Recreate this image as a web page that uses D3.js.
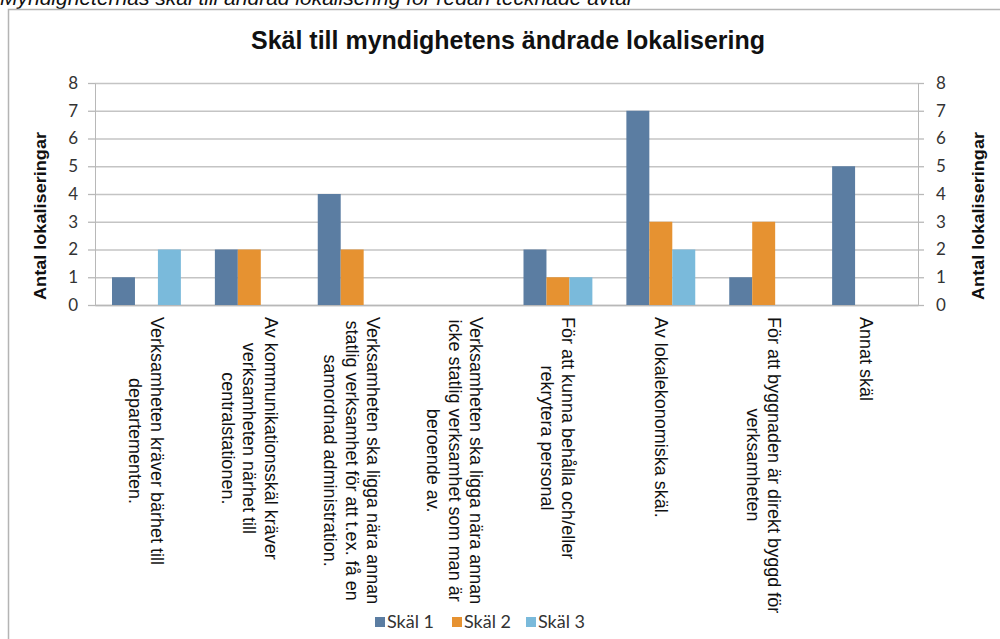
<!DOCTYPE html>
<html>
<head>
<meta charset="utf-8">
<script src="https://cdn.jsdelivr.net/npm/d3@7"></script>
<style>
  body { margin: 0; background: #fff; }
  svg { display: block; }
</style>
</head>
<body>
<svg id="chart"></svg>
<script>
// categories (line breaks as in the original labels)
const categories = [
  ["Verksamheten kräver bärhet till", "departementen."],
  ["Av kommunikationsskäl kräver", "verksamheten närhet till", "centralstationen."],
  ["Verksamheten ska ligga nära annan", "statlig verksamhet för att t.ex. få en", "samordnad administration."],
  ["Verksamheten ska ligga nära annan", "icke statlig verksamhet som man är", "beroende av."],
  ["För att kunna behålla och/eller", "rekrytera personal"],
  ["Av lokalekonomiska skäl."],
  ["För att byggnaden är direkt byggd för", "verksamheten"],
  ["Annat skäl"]
];
const series = ["Skäl 1", "Skäl 2", "Skäl 3"];
const skal1 = [1, 2, 4, 0, 2, 7, 1, 5];
const skal2 = [0, 2, 2, 0, 1, 3, 3, 0];
const skal3 = [2, 0, 0, 0, 1, 2, 0, 0];
const yTicks = [0, 1, 2, 3, 4, 5, 6, 7, 8];
const colors = ["#5b7da2", "#e69231", "#7abadb"];

const width = 1000, height = 639;
const svg = d3.select("#chart").attr("width", width).attr("height", height);

const values = [skal1, skal2, skal3];
const rows = categories.map((c, i) => ({ key: i, lines: c, vals: values.map(v => v[i]) }));

const margin = { left: 95, right: 82, top: 83, bottom: 334 };
const x = d3.scaleBand()
  .domain(d3.range(categories.length))
  .range([margin.left, width - margin.right]);
const x1 = d3.scaleBand()
  .domain(series)
  .range([17, x.bandwidth() - 17]);
const y = d3.scaleLinear().domain([0, 8]).range([height - margin.bottom, margin.top]);

// caption above the chart box (cut off at the top, as in the source image)
svg.append("text")
  .attr("x", 0).attr("y", 5)
  .style("font", "italic 21px 'Liberation Sans', Arial, sans-serif")
  .attr("fill", "#111")
  .text("Myndigheternas skäl till ändrad lokalisering för redan tecknade avtal");

// chart box
svg.append("rect")
  .attr("x", 8.5).attr("y", 9.5)
  .attr("width", 1010).attr("height", 660)
  .attr("fill", "none").attr("stroke", "#b4b4b4").attr("stroke-width", 1.5);

// title
svg.append("text")
  .attr("x", 508).attr("y", 49)
  .attr("text-anchor", "middle")
  .style("font", "bold 25px 'Liberation Sans', Arial, sans-serif")
  .attr("fill", "#111")
  .text("Skäl till myndighetens ändrade lokalisering");

const plotW = width - margin.right - margin.left;

// gridlines
svg.append("g")
  .attr("transform", `translate(${margin.left},0)`)
  .call(d3.axisLeft(y).tickValues(yTicks).tickSize(-plotW).tickFormat(""))
  .call(g => g.select(".domain").remove())
  .call(g => g.selectAll("line").attr("stroke", "#c4c4c4").attr("stroke-width", 1.3));

// left axis
svg.append("g")
  .attr("transform", `translate(${margin.left},0)`)
  .call(d3.axisLeft(y).tickValues(yTicks).tickSize(7).tickPadding(10).tickSizeOuter(0))
  .call(g => g.select(".domain").attr("stroke", "#b8b8b8"))
  .call(g => g.selectAll("line").attr("stroke", "#b8b8b8").attr("stroke-width", 1.3))
  .call(g => g.selectAll("text").attr("fill", "#333")
    .style("font", "17px Lato, 'Open Sans', sans-serif"));

// right axis
svg.append("g")
  .attr("transform", `translate(${width - margin.right},0)`)
  .call(d3.axisRight(y).tickValues(yTicks).tickSize(6).tickPadding(12).tickSizeOuter(0))
  .call(g => g.select(".domain").attr("stroke", "#b8b8b8"))
  .call(g => g.selectAll("line").attr("stroke", "#b8b8b8").attr("stroke-width", 1.3))
  .call(g => g.selectAll("text").attr("fill", "#333")
    .style("font", "17px Lato, 'Open Sans', sans-serif"));

// bottom axis line
svg.append("g")
  .attr("transform", `translate(0,${y(0)})`)
  .call(d3.axisBottom(x).tickSize(0).tickFormat(""))
  .call(g => g.select(".domain").attr("stroke", "#b8b8b8").attr("stroke-width", 1.3));

// axis titles
const titleFont = "bold 16px 'Liberation Sans', Arial, sans-serif";
[40, 978].forEach(tx => {
  svg.append("text")
    .attr("transform", `translate(${tx},216) rotate(-90)`)
    .attr("text-anchor", "middle")
    .attr("dy", "0.35em")
    .attr("textLength", 168)
    .attr("lengthAdjust", "spacingAndGlyphs")
    .style("font", titleFont)
    .attr("fill", "#111")
    .text("Antal lokaliseringar");
});

// bars
const groups = svg.append("g").selectAll("g")
  .data(rows)
  .join("g")
  .attr("transform", d => `translate(${x(d.key)},0)`);

groups.selectAll("rect")
  .data(d => d.vals.map((v, i) => ({ s: series[i], v, i })))
  .join("rect")
  .attr("x", d => x1(d.s))
  .attr("width", x1.bandwidth())
  .attr("y", d => y(d.v))
  .attr("height", d => y(0) - y(d.v))
  .attr("fill", d => colors[d.i]);

// category labels, rotated 90° and centered per line
const labFont = "18px 'Liberation Sans', Arial, sans-serif";
const lh = 21.5;
const labels = svg.append("g").selectAll("g")
  .data(rows)
  .join("g");

labels.each(function (d) {
  const g = d3.select(this);
  const n = d.lines.length;
  const texts = g.selectAll("text")
    .data(d.lines)
    .join("text")
    .style("font", labFont)
    .attr("fill", "#111")
    .attr("text-anchor", "middle")
    .text(t => t);
  const maxLen = d3.max(texts.nodes(), t => t.getComputedTextLength());
  const cx = x(d.key) + x.bandwidth() / 2;
  const cy = y(0) + 12 + maxLen / 2;
  g.attr("transform", `translate(${cx},${cy}) rotate(90)`);
  texts.attr("x", 0).attr("y", (t, i) => (i - (n - 1) / 2) * lh + 6.3);
});

// legend
const legX = [375, 452, 526];
const leg = svg.append("g").selectAll("g")
  .data(series)
  .join("g")
  .attr("transform", (d, i) => `translate(${legX[i]},617)`);
leg.append("rect")
  .attr("width", 10).attr("height", 10)
  .attr("fill", (d, i) => colors[i]);
leg.append("text")
  .attr("x", 12).attr("y", 11)
  .style("font", "18px Lato, 'Open Sans', sans-serif")
  .attr("fill", "#333")
  .text(d => d);
</script>
</body>
</html>
